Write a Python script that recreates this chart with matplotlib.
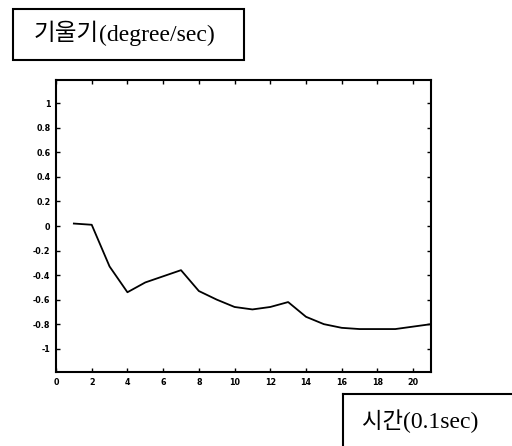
import matplotlib
matplotlib.use("Agg")
import matplotlib.pyplot as plt
from matplotlib.patches import Rectangle
from matplotlib.lines import Line2D

# data
time_steps = list(range(1, 22))
slope = [0.02, 0.01, -0.33, -0.54, -0.46, -0.41, -0.36, -0.53, -0.60, -0.66, -0.68,
         -0.66, -0.62, -0.74, -0.80, -0.83, -0.84, -0.84, -0.84, -0.82, -0.80]
x_ticks = list(range(0, 21, 2))
y_ticks = [1, 0.8, 0.6, 0.4, 0.2, 0, -0.2, -0.4, -0.6, -0.8, -1]
y_tick_labels = ["1", "0.8", "0.6", "0.4", "0.2", "0", "-0.2", "-0.4", "-0.6", "-0.8", "-1"]

W, H = 512, 446
fig = plt.figure(figsize=(W / 100, H / 100), dpi=100)

def fx(px):
    return px / W

def fy(py):
    return 1 - py / H

ax = fig.add_axes([fx(56), fy(372), fx(431) - fx(56), fy(80) - fy(372)])
ax.plot(time_steps, slope, color="black", lw=1.3)
ax.set_xlim(0, 21)
ax.set_ylim(-1.19, 1.19)
ax.set_xticks(x_ticks)
ax.set_xticklabels([str(t) for t in x_ticks])
ax.set_yticks(y_ticks)
ax.set_yticklabels(y_tick_labels)
ax.tick_params(direction="in", top=True, right=True, length=3, width=1,
               labelsize=5.8, pad=4)
for lab in ax.get_xticklabels() + ax.get_yticklabels():
    lab.set_fontweight("bold")
for sp in ax.spines.values():
    sp.set_linewidth(1.5)

KR = ["Noto Sans CJK KR", "DejaVu Sans"]
SERIF = ["Liberation Serif", "DejaVu Serif"]

def two_part(x_px, y_px, kr, latin, kr_size, lat_size):
    t1 = fig.text(fx(x_px), fy(y_px), kr, family=KR, fontsize=kr_size,
                  va="center", ha="left")
    fig.canvas.draw()
    bb = t1.get_window_extent()
    fig.text(bb.x1 / W, fy(y_px + 1), latin, family=SERIF, fontsize=lat_size,
             va="center", ha="left")

# top label box
fig.add_artist(Rectangle((fx(13), fy(60)), fx(244) - fx(13), fy(9) - fy(60),
                         transform=fig.transFigure, fill=False, lw=1.5, ec="black"))
two_part(34, 34, "기울기", "(degree/sec)", 17, 17)

# bottom label box (partially cut off)
fig.add_artist(Line2D([fx(343), fx(343)], [fy(394), 0], transform=fig.transFigure,
                      color="black", lw=1.5))
fig.add_artist(Line2D([fx(343), 1], [fy(394), fy(394)], transform=fig.transFigure,
                      color="black", lw=1.5))
two_part(362, 421, "시간", "(0.1sec)", 16, 17)

fig.savefig("out.png", dpi=100)
